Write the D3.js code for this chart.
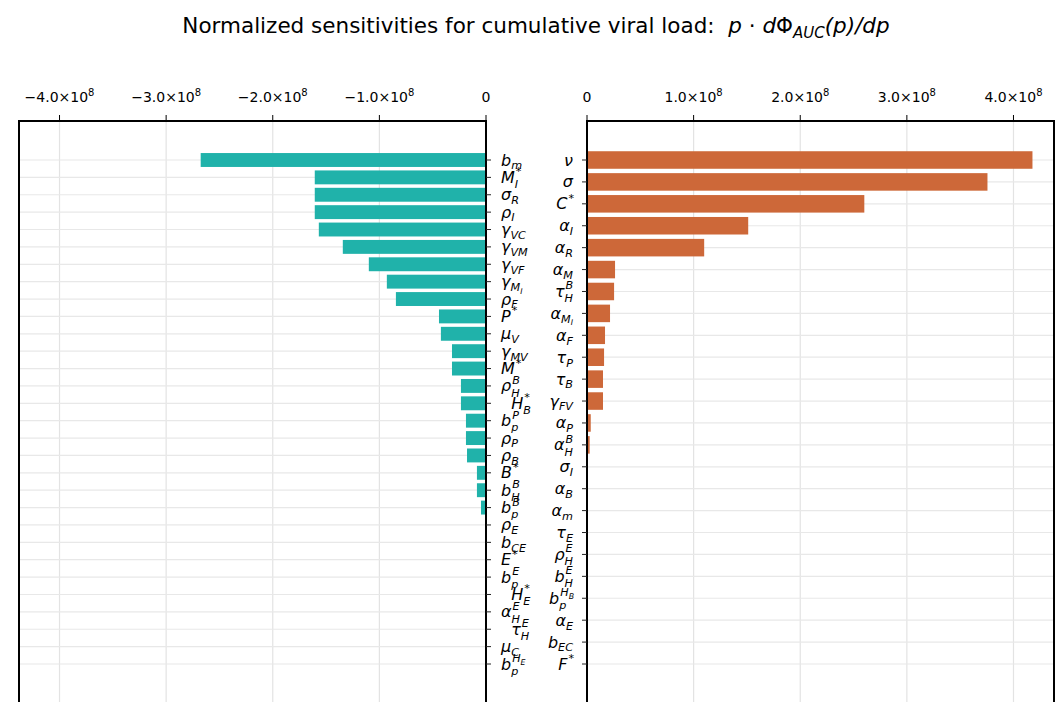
<!DOCTYPE html>
<html>
<head>
<meta charset="utf-8">
<script src="https://cdn.jsdelivr.net/npm/d3@7"></script>
<style>
body { margin: 0; background: #fff; }
svg { display: block; font-family: "DejaVu Sans", sans-serif; }
</style>
</head>
<body>
<div id="chart"></div>
<script>
// Parameters with negative sensitivity (left panel), largest first.
var leftParams = ["b_{m}", "M_{I}^{*}", "σ_{R}", "ρ_{I}", "γ_{VC}", "γ_{VM}", "γ_{VF}", "γ_{M_{I}}", "ρ_{F}", "P^{*}",
  "μ_{V}", "γ_{MV}", "M^{*}", "ρ_{H}^{B}", "  H_{B}^{*}", "b_{p}^{P}", "ρ_{P}", "ρ_{B}", "B^{*}", "b_{H}^{B}",
  "b_{p}^{B}", "ρ_{E}", "b_{CE}", "E^{*}", "b_{p}^{E}", "  H_{E}^{*}", "α_{H}^{E}", "  τ_{H}^{E}", "μ_{C}", "b_{p}^{H_{E}}"]
var leftValues = [-2.676e8, -1.606e8, -1.606e8, -1.606e8, -1.568e8, -1.343e8, -1.099e8, -0.930e8, -0.845e8, -0.441e8,
  -0.423e8, -0.319e8, -0.319e8, -0.235e8, -0.235e8, -0.188e8, -0.188e8, -0.178e8, -0.085e8, -0.085e8,
  -0.047e8, 0, 0, 0, 0, 0, 0, 0, 0, 0]

// Parameters with positive sensitivity (right panel).
var rightParams = ["ν", "σ", "C^{*}", "α_{I}", "α_{R}", "α_{M}", "τ_{H}^{B}", "α_{M_{I}}", "α_{F}", "τ_{P}",
  "τ_{B}", "γ_{FV}", "α_{P}", "α_{H}^{B}", "σ_{I}", "α_{B}", "α_{m}", "τ_{E}", "ρ_{H}^{E}", "b_{H}^{E}",
  "b_{p}^{H_{B}}", "α_{E}", "b_{EC}", "F^{*}"]
var rightValues = [4.178e8, 3.756e8, 2.601e8, 1.512e8, 1.099e8, 0.263e8, 0.254e8, 0.216e8, 0.169e8, 0.160e8,
  0.150e8, 0.150e8, 0.035e8, 0.025e8, 0, 0, 0, 0, 0, 0,
  0, 0, 0, 0]

var leftTicks = [-4e8, -3e8, -2e8, -1e8, 0]
var rightTicks = [0, 1e8, 2e8, 3e8, 4e8]
var xLimit = 4.38e8

var width = 1062, height = 702
var panelTop = 121, panelBottom = 703
var rowPad = 39

var svg = d3.select("#chart").append("svg")
    .attr("width", width)
    .attr("height", height)

// tiny mathtext-ish parser: base_{sub}^{sup}, nested
function parseLabel(s) {
    var i = 0, base = ''
    while (i < s.length && s[i] !== '_' && s[i] !== '^') base += s[i++]
    var out = {base: base}
    while (i < s.length) {
        var kind = s[i]
        i++
        var depth = 0, start = i + 1, j = i
        for (; j < s.length; j++) {
            if (s[j] === '{') depth++
            else if (s[j] === '}') { depth--; if (depth === 0) break }
        }
        out[kind === '_' ? 'sub' : 'sup'] = parseLabel(s.slice(start, j))
        i = j + 1
    }
    return out
}

function drawMath(g, node, x, y, size) {
    var w = 0
    if (node.base) {
        var t = g.append('text')
            .attr('x', x).attr('y', y)
            .style('font-size', size + 'px')
            .style('font-style', node.base === '*' ? 'normal' : 'italic')
            .style('white-space', 'pre')
            .text(node.base)
        w = t.node().getComputedTextLength()
    }
    var ws = 0, wp = 0
    if (node.sub) ws = drawMath(g, node.sub, x + w, y + size * (node.sup ? 0.33 : 0.24), size * 0.7)
    if (node.sup) wp = drawMath(g, node.sup, x + w + 1, y - size * 0.47, size * 0.7)
    return w + Math.max(ws, wp)
}

function tickText(sel, v) {
    if (v === 0) { sel.text('0'); return }
    var m = v / 1e8
    sel.text((m < 0 ? '\u2212' : '') + Math.abs(m).toFixed(1) + '\u00d710')
    sel.append('tspan').attr('dy', -6).style('font-size', '10px').text('8')
}

function drawPanel(opts) {
    var names = opts.names, values = opts.values
    var x = d3.scaleLinear().domain(opts.domain).range([opts.x0, opts.x1])
    var y = d3.scaleLinear().domain([0, names.length - 1]).range([panelTop + rowPad, panelBottom - rowPad])
    var step = y(1) - y(0)
    var g = svg.append('g')

    // grid
    g.selectAll('.vgrid').data(opts.ticks).enter().append('line')
        .attr('x1', d => x(d)).attr('x2', d => x(d))
        .attr('y1', panelTop).attr('y2', panelBottom)
        .attr('stroke', '#e3e3e3').attr('stroke-width', 1.2)
    g.selectAll('.hgrid').data(names).enter().append('line')
        .attr('x1', opts.x0).attr('x2', opts.x1)
        .attr('y1', (d, i) => y(i)).attr('y2', (d, i) => y(i))
        .attr('stroke', '#e8e8e8').attr('stroke-width', 1.2)

    // bars
    g.selectAll('rect').data(values).enter().append('rect')
        .attr('x', d => Math.min(x(0), x(d)))
        .attr('width', d => Math.abs(x(d) - x(0)))
        .attr('y', (d, i) => y(i) - step * 0.4)
        .attr('height', step * 0.8)
        .attr('fill', opts.color)

    // frame
    g.append('rect')
        .attr('x', opts.x0).attr('y', panelTop)
        .attr('width', opts.x1 - opts.x0).attr('height', panelBottom - panelTop)
        .attr('fill', 'none').attr('stroke', '#000').attr('stroke-width', 2)

    // top axis ticks + labels
    g.selectAll('.xtick').data(opts.ticks).enter().append('line')
        .attr('x1', d => x(d)).attr('x2', d => x(d))
        .attr('y1', panelTop).attr('y2', panelTop - 6)
        .attr('stroke', '#000').attr('stroke-width', 1)
    g.selectAll('.xlab').data(opts.ticks).enter().append('text')
        .attr('x', d => x(d)).attr('y', panelTop - 19)
        .attr('text-anchor', 'middle')
        .style('font-size', '14px')
        .each(function(d) { tickText(d3.select(this), d) })

    // y ticks and parameter labels
    var sx = opts.side === 'right' ? opts.x1 : opts.x0
    var dir = opts.side === 'right' ? 1 : -1
    g.selectAll('.ytick').data(names).enter().append('line')
        .attr('x1', sx).attr('x2', sx + dir * 5)
        .attr('y1', (d, i) => y(i)).attr('y2', (d, i) => y(i))
        .attr('stroke', '#222').attr('stroke-width', 1)

    names.forEach(function(name, i) {
        var lg = g.append('g')
        var w = drawMath(lg, parseLabel(name), 0, y(i) + 5.5, 16)
        var lx = opts.side === 'right' ? sx + 15 : sx - 14 - w
        lg.attr('transform', 'translate(' + lx + ',0)')
    })
}

drawPanel({names: leftParams, values: leftValues, domain: [-xLimit, 0], x0: 19, x1: 486,
    ticks: leftTicks, color: '#20b2aa', side: 'right'})
drawPanel({names: rightParams, values: rightValues, domain: [0, xLimit], x0: 587, x1: 1054,
    ticks: rightTicks, color: '#cd6839', side: 'left'})

// title
var title = svg.append('text')
    .attr('x', 536).attr('y', 33)
    .attr('text-anchor', 'middle')
    .style('font-size', '21.5px')
    .style('white-space', 'pre')
title.append('tspan').text('Normalized sensitivities for cumulative viral load:  ')
title.append('tspan').style('font-style', 'italic').text('p')
title.append('tspan').text(' \u00b7 ')
title.append('tspan').style('font-style', 'italic').text('d')
title.append('tspan').text('\u03a6')
title.append('tspan').attr('dy', 5).style('font-size', '15px').style('font-style', 'italic').text('AUC')
title.append('tspan').attr('dy', -5).style('font-style', 'italic').text('(p)/dp')
</script>
</body>
</html>
